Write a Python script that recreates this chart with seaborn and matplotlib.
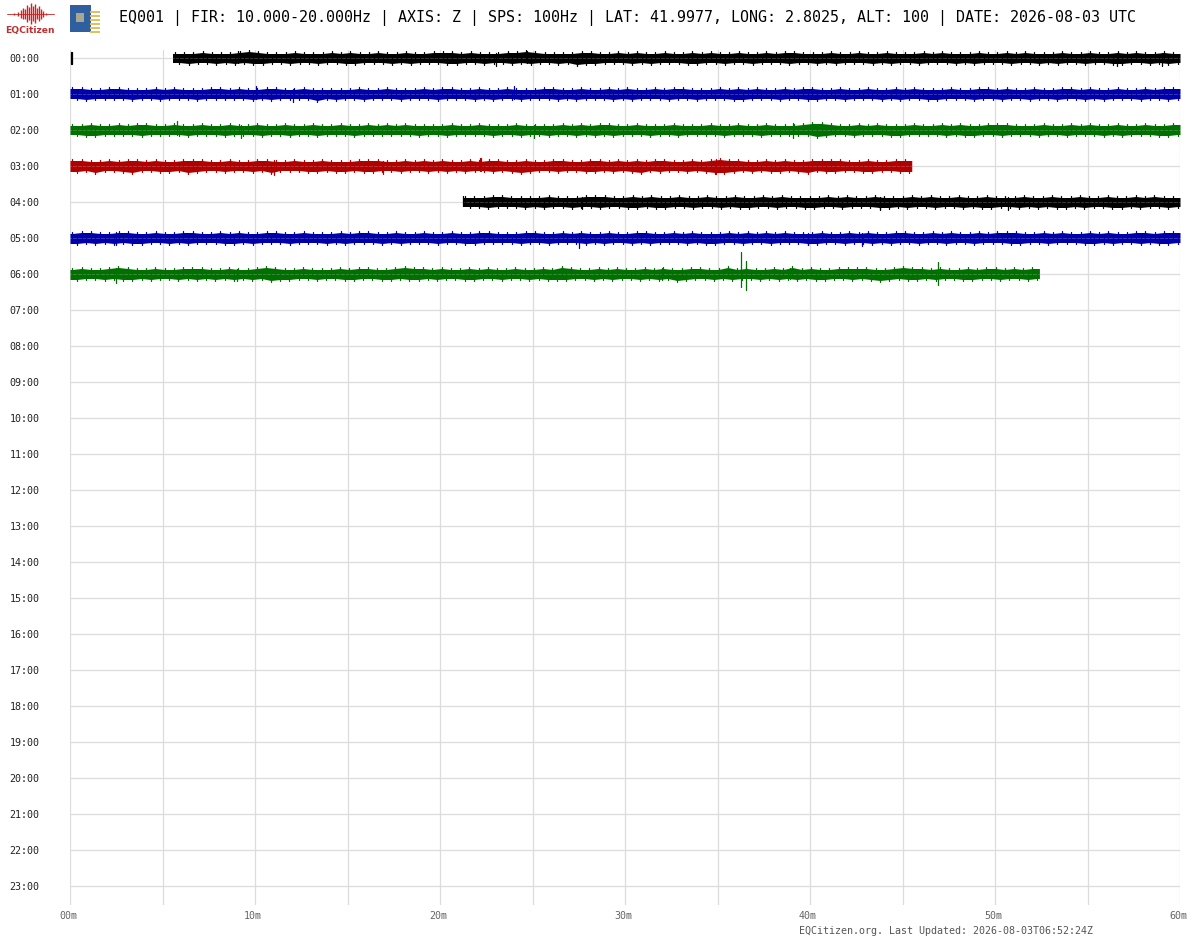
import pandas as pd
import matplotlib
matplotlib.use("Agg")
import matplotlib.pyplot as plt
from matplotlib.patches import Rectangle
from matplotlib.transforms import ScaledTranslation
import seaborn as sns

# ---------------- chart text ----------------
header = "EQ001 | FIR: 10.000-20.000Hz | AXIS: Z | SPS: 100Hz | LAT: 41.9977, LONG: 2.8025, ALT: 100 | DATE: 2026-08-03 UTC"
footer = "EQCitizen.org. Last Updated: 2026-08-03T06:52:24Z"
hour_labels = [f"{h:02d}:00" for h in range(24)]
minute_ticks = list(range(0, 61, 5))
minute_labels = ["00m", "", "10m", "", "20m", "", "30m", "", "40m", "", "50m", "", "60m"]

# ---------------- traces ----------------
# one list per hour, amplitude in counts (36 counts = one row of the drum)
hours = [0, 1, 2, 3, 4, 5, 6]
starts = [5.54, 0.0, 0.0, 0.0, 21.22, 0.0, 0.0]
ends = [60.0, 60.0, 60.0, 45.5, 60.0, 60.0, 52.4]
colors = ["#000000", "#0000aa", "#007000", "#b00000", "#000000", "#0000aa", "#007000"]

up_00 = [5,5,5,6,5,5,5,6,7,6,5,5,5,6,5,5,5,6,5,6,5,5,6,5,5,6,5,5,6,6,6,5,6,5,5,5,6,6,7,6,5,5,5,5,6,6,5,5,6,5,
         6,5,5,6,5,5,6,5,6,5,5,6,5,5,6,5,6,6,5,5,5,6,5,5,6,5,5,6,5,5,5,6,5,6,5,5,5,6,5,5,6,5,6,5,5,5,6,5,5,6,5,5,6,5,6,5,5,6,5]
down_00 = [5,6,5,5,6,5,6,5,6,6,5,5,6,5,5,6,5,5,6,6,5,5,5,6,5,6,5,5,5,6,6,5,5,6,5,5,6,5,6,5,5,6,5,7,6,6,5,5,5,6,
           5,6,5,5,5,6,6,5,5,6,5,5,6,5,5,5,6,5,5,6,5,6,5,5,5,6,5,6,5,5,6,5,5,5,6,5,6,5,5,5,6,5,5,6,5,6,5,5,6,5,5,6,6,5,5,6,5,6,5]
up_01 = [6,6,5,5,6,6,5,5,5,6,5,6,5,5,5,6,6,5,6,5,5,6,6,5,5,6,5,5,5,5,5,6,5,5,6,5,5,5,6,5,6,6,5,5,6,5,5,6,5,5,5,6,6,5,5,6,5,5,6,5,
         6,5,5,6,5,6,6,5,5,5,6,5,6,5,6,5,5,6,5,6,6,5,5,6,5,5,6,5,5,6,5,6,5,5,5,6,5,5,6,6,5,6,5,5,6,5,5,6,6,5,6,5,5,6,5,5,6,5,6,6]
down_01 = [5,6,5,5,5,5,6,5,5,6,5,5,5,6,5,5,5,5,5,6,5,6,5,5,5,5,7,5,6,5,5,6,5,5,5,6,5,5,5,6,5,5,5,6,5,6,5,5,6,5,5,5,6,5,6,5,5,5,6,5,
           6,5,5,5,6,5,5,6,5,5,5,6,6,5,5,5,6,5,5,6,6,5,5,6,5,5,5,6,5,6,5,5,6,6,5,5,5,6,5,5,6,5,5,6,5,5,6,5,5,6,5,6,5,5,5,6,5,5,6,5]
up_02 = [5,5,6,5,5,6,5,6,6,5,5,6,5,5,6,5,5,6,5,5,6,5,5,6,5,5,6,5,5,6,5,5,6,5,6,5,6,5,5,5,5,6,5,5,6,5,5,5,6,5,5,5,5,6,5,6,5,6,6,5,
         5,6,5,5,5,6,5,5,5,6,5,5,6,5,5,6,5,5,5,6,7,7,6,5,5,6,5,6,5,5,5,6,5,5,6,5,6,5,5,6,6,6,5,5,5,6,5,5,6,5,6,5,5,6,5,5,6,5,5,6]
down_02 = [5,6,6,5,5,5,5,6,5,5,5,5,6,5,5,5,6,5,5,5,6,5,5,6,5,5,6,5,5,5,6,5,5,5,5,5,5,6,5,5,6,5,5,5,5,6,5,5,6,5,5,6,5,5,6,5,6,5,6,5,
           5,5,6,5,5,6,5,5,5,5,6,5,5,5,6,5,5,5,5,5,7,6,5,5,6,5,5,5,6,6,5,5,5,5,6,5,6,6,5,5,6,5,5,5,6,5,5,6,5,5,5,6,5,6,5,5,5,6,6,5]
up_03 = [6,6,5,5,6,5,6,6,5,6,5,5,6,6,6,5,5,6,5,5,6,6,5,5,6,5,5,6,5,5,5,6,6,6,5,5,6,5,6,5,6,5,5,6,5,6,6,5,5,6,
         5,5,6,6,5,5,6,6,5,6,5,6,5,6,6,5,5,6,5,6,7,6,6,5,5,6,5,6,5,5,6,6,6,6,5,5,6,5,5,6,6]
down_03 = [6,5,7,5,5,6,7,5,5,6,6,5,7,6,5,5,6,5,5,6,5,7,5,5,5,6,6,5,6,6,5,6,6,5,5,6,5,5,6,5,6,5,6,5,5,6,5,6,7,6,
           5,5,6,5,5,6,6,5,6,5,6,7,5,6,5,5,6,5,6,7,7,6,5,6,5,6,6,5,6,7,5,6,6,5,5,6,6,5,5,6,6]
up_04 = [5,5,5,6,6,5,5,5,5,6,5,5,5,6,6,6,5,5,6,5,6,5,5,6,5,5,6,5,5,6,5,5,6,5,6,5,5,5,5,6,
         5,6,5,5,6,5,5,5,6,5,6,5,5,6,5,5,6,5,5,5,6,5,5,6,5,5,6,5,5,6,5,5,6,5,6,5,5]
down_04 = [5,5,6,5,5,5,6,5,6,5,5,6,5,5,6,5,5,6,6,5,6,6,5,5,6,5,5,6,5,6,6,5,5,6,5,5,6,6,5,5,
           6,5,5,5,6,6,5,6,5,5,6,5,5,6,5,6,6,5,5,6,5,6,5,6,6,5,6,5,5,6,6,5,6,5,5,6,5]
up_05 = [5,6,6,5,5,6,6,5,5,6,5,5,6,6,5,5,6,5,6,5,5,6,6,5,5,6,5,5,5,6,5,6,6,5,5,6,5,5,6,5,5,6,5,5,6,6,5,5,5,6,6,5,5,6,5,6,5,5,6,5,
         5,6,6,5,5,6,5,6,5,5,5,6,5,6,5,6,5,6,5,5,5,6,5,5,6,5,6,5,5,6,6,5,5,6,5,6,5,5,6,5,6,6,6,5,5,6,5,6,5,5,6,5,6,5,5,6,6,5,6,6]
down_05 = [6,5,6,5,6,5,6,6,5,5,6,5,6,5,5,5,6,6,5,6,5,5,5,6,5,5,5,6,5,6,5,5,5,6,5,6,5,5,5,6,5,5,6,6,5,5,5,5,6,5,5,6,5,5,5,6,5,6,5,5,
           6,5,6,5,5,5,6,5,6,6,5,5,6,5,5,6,5,5,5,6,6,5,5,6,5,5,6,5,6,5,5,6,5,5,6,5,5,6,5,5,5,6,6,5,5,6,5,5,5,6,6,5,6,5,5,6,5,6,6,5]
up_06 = [5,6,5,5,6,7,6,5,5,6,5,5,6,6,6,5,5,6,5,5,6,7,6,5,5,6,5,5,5,6,5,6,6,5,5,6,7,6,6,5,6,5,5,6,5,6,5,5,6,5,5,6,5,7,6,5,5,6,5,6,
         5,5,6,5,6,5,5,6,6,5,5,7,5,6,5,5,6,5,7,5,6,5,5,6,6,6,6,5,5,6,7,6,6,5,6,5,5,6,5,6,6,5,6,5,6]
down_06 = [6,5,5,6,5,6,6,5,6,5,5,6,5,6,5,6,5,6,5,6,5,7,6,6,5,5,6,5,5,6,6,5,5,6,6,5,6,6,5,6,5,5,6,6,5,5,6,5,5,6,5,6,6,6,5,5,6,5,6,5,
           5,6,5,6,5,7,6,5,5,6,5,6,5,5,6,5,6,5,6,5,6,6,5,5,6,5,6,7,6,5,6,6,5,6,5,5,6,6,5,5,6,5,5,6,5]
ups = [up_00, up_01, up_02, up_03, up_04, up_05, up_06]
downs = [down_00, down_01, down_02, down_03, down_04, down_05, down_06]

# the single peaks that stand out of the band
spike_hour = [0, 0, 0, 0, 0, 0, 0, 1, 1, 1, 2, 2, 2, 2, 3, 3, 3, 3, 3, 4, 4, 4, 4, 5, 5, 5, 5, 6, 6, 6, 6, 6, 6, 6]
spike_minute = [0.05, 0.11, 9.09, 23.0, 24.7, 56.6, 59.0, 10.03, 12.08, 24.0, 5.81, 9.27, 25.1, 39.1, 11.0, 16.9, 22.14, 22.2, 34.9,
                21.22, 27.7, 43.8, 50.7, 2.5, 27.5, 39.9, 42.8, 2.46, 9.05, 32.0, 36.26, 36.53, 38.9, 46.9]
spike_up = [6, 6, 7, 5, 7.5, 5, 5, 8.5, 5, 8, 9.5, 5, 5, 7, 6, 5, 8.5, 8.5, 7, 6.5, 5, 5, 5, 6, 5, 5, 5, 6, 5, 6, 22.5, 13.5, 6, 12]
spike_down = [6, 6, 5, 8, 5, 8, 8, 5, 8, 5, 5, 8, 8, 8, 8.5, 8, 5, 5, 8, 4, 7, 8, 8, 7, 10, 7, 8, 8.5, 7, 6, 12.5, 15.5, 5, 11]

COUNTS_PER_ROW = 36.0
W, H = 1200, 940


# minute position of each peak on one side of a band
def peak_minutes(i, amps, shift):
    step = (ends[i] - starts[i]) / len(amps)
    return [starts[i] + (k + shift) * step for k in range(len(amps))]


# every peak becomes one short vertical stroke
def build_strokes():
    rows = []
    stroke = 0
    for i, hour in enumerate(hours):
        for side, amps, shift in ((-1, ups[i], 0.25), (1, downs[i], 0.75)):
            for minute, amp in zip(peak_minutes(i, amps, shift), amps):
                rows.append([stroke, hour, minute, hour])
                rows.append([stroke, hour, minute, hour + side * (amp + 0.8) / COUNTS_PER_ROW])
                stroke += 1
    for hour, minute, up, down in zip(spike_hour, spike_minute, spike_up, spike_down):
        rows.append([stroke, hour, minute, hour - up / COUNTS_PER_ROW])
        rows.append([stroke, hour, minute, hour + down / COUNTS_PER_ROW])
        stroke += 1
    return pd.DataFrame(rows, columns=["stroke", "hour", "minute", "level"])


sns.set_theme(style="white")
plt.rcParams['font.family'] = ['DejaVu Sans Mono']

fig = plt.figure(figsize=(W / 100, H / 100), dpi=100, facecolor="white")
# plot area in pixels: 70..1180 across, 49.5..904.5 down
ax = fig.add_axes([70 / W, 1 - 904.5 / H, 1110 / W, 855 / H])
ax.set_xlim(0, 60)
ax.set_ylim((905 - 58.5) / 36, (50 - 58.5) / 36)

ax.set_xticks(minute_ticks)
ax.set_xticklabels(minute_labels, fontsize=7.2, color="#666666")
ax.set_yticks(range(24))
ax.set_yticklabels(hour_labels, fontsize=7.2, color="#222222")
ax.tick_params(axis="x", length=0, pad=5)
ax.tick_params(axis="y", length=0, pad=22)
ax.grid(True, color="#dcdcdc", linewidth=0.9)
ax.set_axisbelow(True)
for s in ax.spines.values():
    s.set_visible(False)
for lbl in ax.get_xticklabels():
    lbl.set_transform(lbl.get_transform() + ScaledTranslation(-2 / 100, 0, fig.dpi_scale_trans))

# solid middle of each band, following the peaks just inside them
for i, hour in enumerate(hours):
    for side, amps, shift in ((-1, ups[i], 0.25), (1, downs[i], 0.75)):
        x = [starts[i]] + peak_minutes(i, amps, shift) + [ends[i]]
        edge = [hour + side * (v - 0.5) / COUNTS_PER_ROW for v in [amps[0]] + amps + [amps[-1]]]
        ax.fill_between(x, hour, edge, color=colors[i], linewidth=0, zorder=3)

strokes = build_strokes()
sns.lineplot(data=strokes, x="minute", y="level", units="stroke", estimator=None, sort=False,
             hue="hour", palette=dict(zip(hours, colors)), linewidth=0.9, legend=False, ax=ax, zorder=3)
ax.set_xlabel("")
ax.set_ylabel("")
ax.set_xlim(0, 60)
ax.set_ylim((905 - 58.5) / 36, (50 - 58.5) / 36)

# header strip in pixel coordinates
top = fig.add_axes([0, 0, 1, 1], facecolor="none")
top.set_xlim(0, W)
top.set_ylim(H, 0)
top.axis("off")
top.text(119, 18, header, fontsize=10.8, color="#000000", ha="left", va="center")
top.text(799, 931, footer, fontsize=7.2, color="#555555", ha="left", va="center")

# EQCitizen logo
logo_x = [10, 14, 18, 21, 23, 25, 27, 29, 31, 33, 35, 37, 39, 41, 43, 46, 50]
logo_h = [0.5, 1, 2, 4, 6, 5, 9, 7, 11, 8, 10, 6, 8, 5, 3, 1.5, 0.5]
top.plot([7, 54], [14, 14], color="#d04040", linewidth=0.7)
top.vlines(logo_x, [14 - v for v in logo_h], [14 + v * 0.9 for v in logo_h], color="#cc2222", linewidth=1.0)
top.text(30, 30, "EQCitizen", fontsize=6.6, fontweight="bold", color="#c03030", ha="center", va="center",
         family="DejaVu Sans")

# sensor board icon
top.add_patch(Rectangle((70, 5), 21, 27, facecolor="#2f5f9f", edgecolor="none"))
top.add_patch(Rectangle((76, 13), 8, 9, facecolor="#a8a890", edgecolor="none"))
for y in range(11, 32, 4):
    top.add_patch(Rectangle((90, y), 10, 2, facecolor="#e0c060", edgecolor="none"))

fig.savefig("out.png", dpi=100)
